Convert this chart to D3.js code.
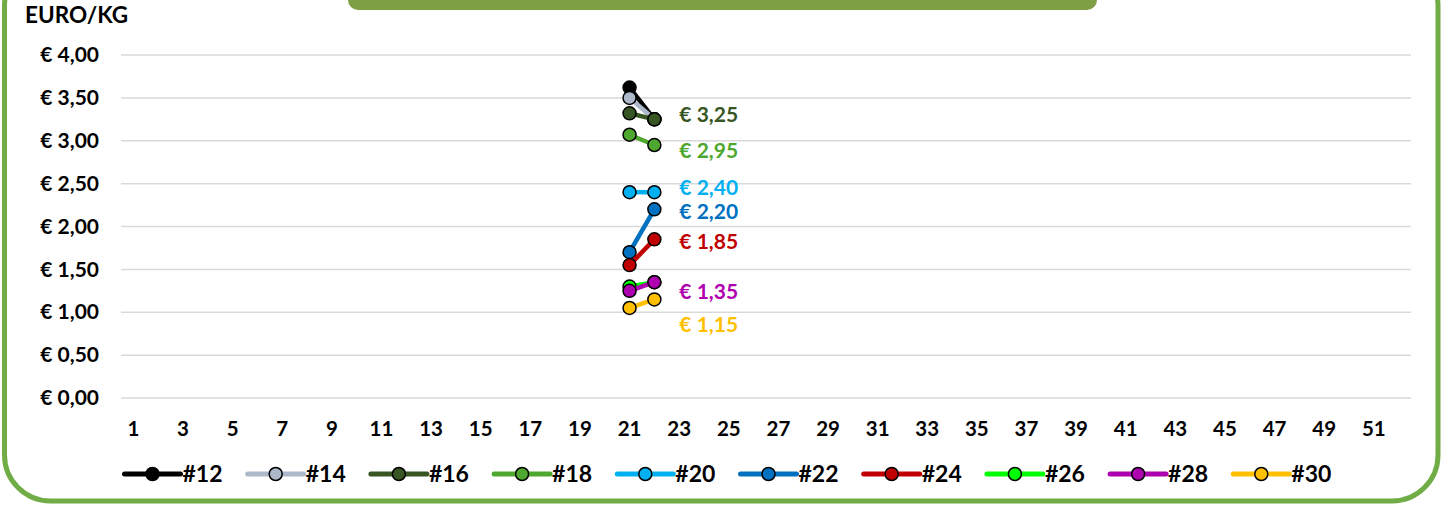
<!DOCTYPE html>
<html>
<head>
<meta charset="utf-8">
<script src="https://cdn.jsdelivr.net/npm/d3@7"></script>
<style>
  html, body { margin: 0; padding: 0; background: #fff; }
  svg { display: block; }
  text { font-family: Lato, "Open Sans", sans-serif; font-weight: bold; }
</style>
</head>
<body>
<svg id="chart" width="1442" height="508"></svg>
<script>
// Data
var weeks = d3.range(1, 53)
var tickWeeks = d3.range(1, 53, 2)
var yTicks = [0, 0.5, 1, 1.5, 2, 2.5, 3, 3.5, 4]
var obsWeeks = [21, 22]
var seriesNames = ['#12', '#14', '#16', '#18', '#20', '#22', '#24', '#26', '#28', '#30']
var seriesColors = ['#000000', '#ADB9CA', '#375623', '#4EA72E', '#00B0F0', '#0070C0', '#C00000', '#00FF00', '#AE00AE', '#FFC000']
var v12 = [3.62, 3.25]
var v14 = [3.50, 3.25]
var v16 = [3.32, 3.25]
var v18 = [3.07, 2.95]
var v20 = [2.40, 2.40]
var v22 = [1.70, 2.20]
var v24 = [1.55, 1.85]
var v26 = [1.30, 1.35]
var v28 = [1.25, 1.35]
var v30 = [1.05, 1.15]
var seriesValues = [v12, v14, v16, v18, v20, v22, v24, v26, v28, v30]
// series that show their last value as a label
var labelled = ['#16', '#18', '#20', '#22', '#24', '#28', '#30']

// Layout
var svg = d3.select('#chart')
var locale = d3.formatLocale({ decimal: ',', thousands: '.', grouping: [3], currency: ['€ ', ''] })
var euro = function(d) { return '€ ' + locale.format('.2f')(d) }

var x = d3.scaleBand().domain(weeks).range([121, 1411]).padding(0)
var cx = function(w) { return x(w) + x.bandwidth() / 2 }
var y = d3.scaleLinear().domain([0, 4]).range([398, 55])

// frame
svg.append('rect')
  .attr('x', 4.5).attr('y', -40)
  .attr('width', 1433.5).attr('height', 541)
  .attr('rx', 46).attr('ry', 46)
  .attr('fill', '#fff')
  .attr('stroke', '#70AD47')
  .attr('stroke-width', 5)

// title bar (cut at the top)
svg.append('rect')
  .attr('x', 348).attr('y', -20)
  .attr('width', 749).attr('height', 30)
  .attr('rx', 10).attr('ry', 10)
  .attr('fill', '#7F9F44')

svg.append('text')
  .attr('x', 25).attr('y', 23)
  .attr('font-size', 22.5)
  .attr('fill', '#000')
  .text('EURO/KG')

// gridlines
svg.append('g').selectAll('line')
  .data(yTicks)
  .join('line')
  .attr('x1', x.range()[0]).attr('x2', x.range()[1])
  .attr('y1', function(d) { return y(d) }).attr('y2', function(d) { return y(d) })
  .attr('stroke', '#D9D9D9')
  .attr('stroke-width', 1.5)

// y axis labels
var yAxis = svg.append('g')
  .attr('transform', 'translate(99,0)')
  .call(d3.axisLeft(y).tickValues(yTicks).tickFormat(euro).tickSize(0).tickPadding(0))
yAxis.select('.domain').remove()
yAxis.selectAll('text').attr('font-size', 21).attr('fill', '#000')
  .style('font-family', 'Lato, sans-serif').style('font-weight', 'bold')

// x axis labels
var xAxis = svg.append('g')
  .attr('transform', 'translate(0,' + 421 + ')')
  .call(d3.axisBottom(x).tickValues(tickWeeks).tickSize(0).tickPadding(0))
xAxis.select('.domain').remove()
xAxis.selectAll('text').attr('font-size', 20.5).attr('fill', '#000')
  .style('font-family', 'Lato, sans-serif').style('font-weight', 'bold')

// series
var series = seriesNames.map(function(n, i) {
  return {
    name: n,
    color: seriesColors[i],
    points: obsWeeks.map(function(w, j) { return { w: w, v: seriesValues[i][j] } })
  }
})

var line = d3.line()
  .x(function(d) { return cx(d.w) })
  .y(function(d) { return y(d.v) })

var sg = svg.append('g').selectAll('g')
  .data(series)
  .join('g')

sg.append('path')
  .attr('d', function(d) { return line(d.points) })
  .attr('fill', 'none')
  .attr('stroke', function(d) { return d.color })
  .attr('stroke-width', 4.5)

sg.selectAll('circle')
  .data(function(d) { return d.points.map(function(p) { return { p: p, color: d.color } }) })
  .join('circle')
  .attr('cx', function(d) { return cx(d.p.w) })
  .attr('cy', function(d) { return y(d.p.v) })
  .attr('r', 6.5)
  .attr('fill', function(d) { return d.color })
  .attr('stroke', '#000')
  .attr('stroke-width', 1.5)

// value labels (nudged like the original to avoid overlap)
var labelShift = { '#16': -5, '#18': 6, '#20': -5, '#22': 2, '#24': 2, '#28': 9, '#30': 25 }
svg.append('g').selectAll('text')
  .data(series.filter(function(s) { return labelled.indexOf(s.name) >= 0 }))
  .join('text')
  .attr('x', function(d) { var p = d.points[d.points.length - 1]; return cx(p.w) + 25 })
  .attr('y', function(d) { var p = d.points[d.points.length - 1]; return y(p.v) + labelShift[d.name] })
  .attr('dy', '0.35em')
  .attr('font-size', 21)
  .attr('fill', function(d) { return d.color })
  .text(function(d) { return euro(d.points[d.points.length - 1].v) })

// legend
var lg = svg.append('g').selectAll('g')
  .data(series)
  .join('g')
  .attr('transform', function(d, i) { return 'translate(' + (124.5 + i * 123.2) + ',474)' })

lg.append('line')
  .attr('x1', 0).attr('x2', 56)
  .attr('stroke', function(d) { return d.color })
  .attr('stroke-width', 5)
  .attr('stroke-linecap', 'round')
lg.append('circle')
  .attr('cx', 28).attr('r', 6.5)
  .attr('fill', function(d) { return d.color })
  .attr('stroke', '#000').attr('stroke-width', 1.5)
lg.append('text')
  .attr('x', 58).attr('dy', '0.36em')
  .attr('font-size', 23)
  .attr('fill', '#000')
  .text(function(d) { return d.name })
</script>
</body>
</html>
